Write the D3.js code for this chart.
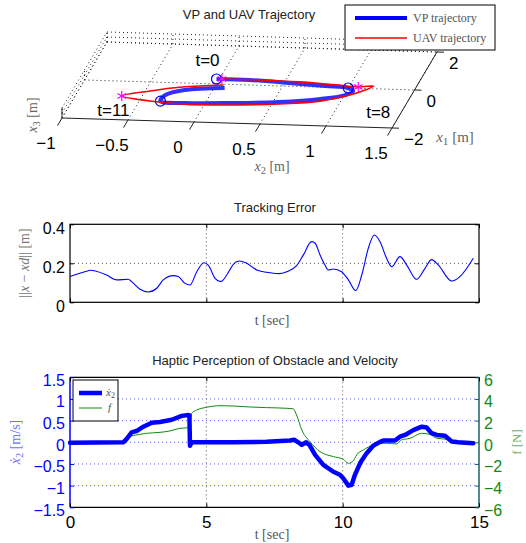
<!DOCTYPE html>
<html>
<head>
<meta charset="utf-8">
<script src="https://cdn.jsdelivr.net/npm/d3@7"></script>
<style>
  body { margin: 0; background: #fff; }
  text { font-family: "Liberation Sans", Arial, sans-serif; }
  .tex { font-family: "Liberation Serif", "DejaVu Serif", serif; }
</style>
</head>
<body>
<svg width="526" height="543"></svg>
<script>
// ---------- data ----------
// 3D view: tick values of the three axes
const x2Ticks = [-1, -0.5, 0, 0.5, 1, 1.5];
const x1Ticks = [-2, 0, 2];
const x3Ticks = [-1, 0, 1];

// VP trajectory (thick blue)
const vpT  = [0, 2.6, 3.3, 4.0, 8.0, 8.4, 8.8, 9.3, 9.8, 10.3, 10.7, 11.0, 11.8, 12.8, 15];
const vpX2 = [0.00, 0.25, 0.56, 0.84, 1.02, 1.07, 1.03, 0.86, 0.57, 0.21, -0.13, -0.32, -0.31, -0.19, 0.10];
const vpX1 = [0.00, 0.00, -0.09, -0.19, -0.26, -0.41, -0.63, -0.87, -1.09, -1.22, -1.29, -1.23, -0.91, -0.62, -0.45];
const vpX3 = [0, 0, 0, 0, 0, 0, 0, 0, 0, 0, 0, 0, 0, 0, 0];

// UAV trajectory (red)
const uavT  = [0, 2.5, 3.3, 4.1, 8.0, 8.3, 8.7, 9.1, 9.6, 10.0, 10.4, 10.7, 10.9, 11.0, 11.7, 12.5, 15];
const uavX2 = [0.04, 0.33, 0.63, 0.91, 1.09, 1.20, 1.14, 1.06, 0.87, 0.58, 0.22, -0.16, -0.40, -0.63, -0.44, -0.22, 0.08];
const uavX1 = [0.01, 0.02, -0.02, -0.12, -0.19, -0.12, -0.39, -0.62, -0.98, -1.19, -1.32, -1.35, -1.24, -1.03, -0.72, -0.47, -0.30];
const uavX3 = [0, 0, 0, 0, 0, 0, 0, 0, 0, 0, 0, 0, 0, 0, 0, 0, 0];

// times marked on both trajectories
const markTimes = [0, 8, 11];

// tracking error
const errT = [0, 0.67, 0.73, 1.34, 1.71, 2.14, 2.26, 2.57, 2.87, 3.18, 3.42, 3.79, 3.97, 4.22, 4.40, 4.65, 4.91, 5.07, 5.32, 5.53,
  5.75, 5.99, 6.21, 6.48, 6.85, 7.21, 7.64, 7.95, 8.31, 8.56, 8.86, 8.99, 9.17, 9.35, 9.47, 9.66, 9.96, 10.21, 10.48, 10.70,
  10.94, 11.16, 11.37, 11.61, 11.80, 12.10, 12.35, 12.71, 13.02, 13.26, 13.51, 14.0, 14.30, 14.79];
const errV = [0.132, 0.162, 0.164, 0.140, 0.115, 0.118, 0.106, 0.067, 0.053, 0.072, 0.115, 0.137, 0.132, 0.097, 0.089, 0.157, 0.203, 0.191, 0.123, 0.106,
  0.140, 0.195, 0.212, 0.200, 0.166, 0.154, 0.147, 0.157, 0.188, 0.243, 0.311, 0.303, 0.243, 0.191, 0.166, 0.171, 0.157, 0.115, 0.060, 0.140,
  0.277, 0.345, 0.311, 0.226, 0.183, 0.234, 0.191, 0.118, 0.174, 0.219, 0.191, 0.109, 0.132, 0.226];

// velocity x2dot [m/s]
const velT = [0, 1.96, 2.08, 2.26, 2.44, 2.69, 3.0, 3.30, 3.73, 4.10, 4.34, 4.38, 4.40, 4.46, 5.99, 7.21, 8.07, 8.22, 8.37, 8.50,
  8.66, 8.78, 8.99, 9.29, 9.66, 9.90, 10.02, 10.21, 10.33, 10.45, 10.64, 10.88, 11.12, 11.37, 11.49, 11.92, 12.10, 12.29, 12.59, 12.90,
  13.08, 13.26, 13.45, 13.75, 14.0, 14.24, 14.79];
const velV = [-0.01, 0.0, 0.08, 0.23, 0.26, 0.36, 0.45, 0.47, 0.52, 0.61, 0.63, 0.62, -0.08, 0.0, 0.0, 0.01, 0.04, 0.06, 0.0, -0.06,
  0.0, -0.06, -0.29, -0.52, -0.68, -0.75, -0.83, -1.0, -0.98, -0.75, -0.48, -0.25, -0.08, 0.01, 0.04, 0.04, 0.13, 0.17, 0.28, 0.36,
  0.34, 0.21, 0.17, 0.15, 0.02, 0.0, -0.02];

// haptic force f [N]
const forceT = [0, 1.96, 2.14, 2.32, 2.81, 3.30, 3.67, 4.03, 4.34, 4.40, 4.46, 4.65, 5.01, 5.50, 5.99, 6.60, 7.21, 7.95, 8.19, 8.31,
  8.50, 8.80, 9.17, 9.66, 10.02, 10.21, 10.39, 10.51, 10.76, 11.12, 11.61, 11.98, 12.16, 12.47, 12.90, 13.2, 13.45, 13.81, 14.18, 14.79];
const forceV = [0, 0.03, 0.52, 0.62, 0.83, 0.92, 1.05, 1.29, 1.35, 1.6, 2.68, 2.98, 3.23, 3.38, 3.35, 3.26, 3.2, 3.14, 3.08, 2.52,
  1.14, 0.06, -0.86, -1.32, -1.57, -1.94, -1.72, -1.17, -0.71, -0.25, -0.09, -0.15, 0.22, 0.37, 0.83, 0.74, 0.37, 0.28, -0.09, -0.12];

const tTicks = [0, 5, 10, 15];
const errTicks = [0, 0.2, 0.4];
const velTicks = [-1.5, -1, -0.5, 0, 0.5, 1, 1.5];
const forceTicks = [-6, -4, -2, 0, 2, 4, 6];

// ---------- drawing ----------
const svg = d3.select("svg");
const dotted = "1 3";

// ===== top: 3D trajectory =====
const x2Scale = d3.scaleLinear().domain([-1, 1.5]).range([0, 1]);
const x1Scale = d3.scaleLinear().domain([-2, 2]).range([0, 1]);
const x3Scale = d3.scaleLinear().domain([-1, 1]).range([0, 1]);
// screen vectors of the box edges (view)
const O = [62, 118], E2 = [330, 10], E1 = [45, -76], E3 = [0, -10];
function proj(x2, x1, x3) {
  const a = x2Scale(x2), b = x1Scale(x1), c = x3Scale(x3);
  return [O[0] + a * E2[0] + b * E1[0] + c * E3[0], O[1] + a * E2[1] + b * E1[1] + c * E3[1]];
}
const g3 = svg.append("g");
function seg(p, q, dash, color) {
  g3.append("line")
    .attr("x1", p[0]).attr("y1", p[1]).attr("x2", q[0]).attr("y2", q[1])
    .attr("stroke", color || "#222").attr("stroke-width", 1)
    .attr("stroke-dasharray", dash || null);
}
const [x2a, x2b] = x2Scale.domain(), [x1a, x1b] = x1Scale.domain(), [x3a, x3b] = x3Scale.domain();
// grid on floor, back wall and left wall
x2Ticks.forEach((v) => {
  seg(proj(v, x1a, x3a), proj(v, x1b, x3a), dotted);
  seg(proj(v, x1b, x3a), proj(v, x1b, x3b), dotted);
});
x1Ticks.forEach((v) => {
  if (v !== x1a) seg(proj(x2a, v, x3a), proj(x2b, v, x3a), dotted);
  seg(proj(x2a, v, x3a), proj(x2a, v, x3b), dotted);
});
x3Ticks.forEach((v) => {
  seg(proj(x2a, x1b, v), proj(x2b, x1b, v), dotted);
  seg(proj(x2a, x1a, v), proj(x2a, x1b, v), dotted);
});
// solid axes
seg(proj(x2a, x1a, x3a), proj(x2b, x1a, x3a));
seg(proj(x2b, x1a, x3a), proj(x2b, x1b, x3a));
seg(proj(x2a, x1a, x3a), proj(x2a, x1a, x3b));
// x2 ticks + labels
x2Ticks.forEach((v) => {
  const p = proj(v, x1a, x3a);
  seg(p, [p[0] - 4.5, p[1] + 7.6]);
  g3.append("text").attr("x", p[0] - 16).attr("y", p[1] + 31)
    .attr("text-anchor", "middle").attr("font-size", 17)
    .text(d3.format("")(v).replace("-", "\u2212"));
});
// x1 ticks + labels
x1Ticks.forEach((v) => {
  const p = proj(x2b, v, x3a);
  seg(p, [p[0] + 7, p[1] + 0.2]);
  g3.append("text").attr("x", p[0] + 12).attr("y", p[1] + 17)
    .attr("font-size", 17)
    .text(d3.format("")(v).replace("-", "\u2212"));
});
// axis labels
function texLabel(sel, sym, sub, unit) {
  sel.append("tspan").attr("font-style", "italic").text(sym);
  if (sub) sel.append("tspan").attr("font-size", "0.75em").attr("dy", 3).text(sub);
  sel.append("tspan").attr("dy", sub ? -3 : 0).text(" " + unit);
}
texLabel(g3.append("text").attr("class", "tex").attr("x", 272).attr("y", 171)
  .attr("text-anchor", "middle").attr("font-size", 14).attr("fill", "#666"), "x", "2", "[m]");
texLabel(g3.append("text").attr("class", "tex").attr("x", 455).attr("y", 142)
  .attr("text-anchor", "middle").attr("font-size", 15).attr("fill", "#666"), "x", "1", "[m]");
texLabel(g3.append("text").attr("class", "tex").attr("transform", "translate(37,115) rotate(-90)")
  .attr("text-anchor", "middle").attr("font-size", 14).attr("fill", "#666"), "x", "3", "[m]");

// trajectories
const vpPts = vpT.map((t, i) => proj(vpX2[i], vpX1[i], vpX3[i]));
const uavPts = uavT.map((t, i) => proj(uavX2[i], uavX1[i], uavX3[i]));
const line3 = d3.line().curve(d3.curveCatmullRom.alpha(0.5));
g3.append("path").attr("d", line3(vpPts)).attr("fill", "none")
  .attr("stroke", "#1a1aff").attr("stroke-width", 4).attr("stroke-opacity", 0.9);
g3.append("path").attr("d", line3(uavPts)).attr("fill", "none")
  .attr("stroke", "#ff0000").attr("stroke-width", 1.6);

// time markers: blue circles on VP, magenta stars on UAV
const labelOffset = { 0: [-9, -13], 8: [30, 30], 11: [-47, 15] };
markTimes.forEach((t) => {
  const p = vpPts[vpT.indexOf(t)];
  const q = uavPts[uavT.indexOf(t)];
  g3.append("circle").attr("cx", p[0]).attr("cy", p[1]).attr("r", 5)
    .attr("fill", "none").attr("stroke", "#0000ff").attr("stroke-width", 1.2);
  g3.append("path").attr("d", d3.symbol(d3.symbolAsterisk, 70)())
    .attr("transform", `translate(${q[0]},${q[1]})`)
    .attr("fill", "none").attr("stroke", "#ff00ff").attr("stroke-width", 1.2);
  g3.append("text").attr("x", p[0] + labelOffset[t][0]).attr("y", p[1] + labelOffset[t][1])
    .attr("text-anchor", "middle").attr("font-size", 17).text("t=" + t);
});

g3.append("text").attr("x", 249).attr("y", 19).attr("text-anchor", "middle")
  .attr("font-size", 13).attr("fill", "#222").text("VP and UAV Trajectory");

// legend
const leg = g3.append("g");
leg.append("rect").attr("x", 345).attr("y", 5).attr("width", 150).attr("height", 45)
  .attr("fill", "#fff").attr("stroke", "#000");
leg.append("line").attr("x1", 355).attr("x2", 407).attr("y1", 18).attr("y2", 18)
  .attr("stroke", "#0000ff").attr("stroke-width", 4);
leg.append("line").attr("x1", 355).attr("x2", 407).attr("y1", 38).attr("y2", 38)
  .attr("stroke", "#ff0000").attr("stroke-width", 1.6);
leg.append("text").attr("class", "tex").attr("x", 413).attr("y", 22)
  .attr("font-size", 12).attr("fill", "#555").text("VP trajectory");
leg.append("text").attr("class", "tex").attr("x", 413).attr("y", 42)
  .attr("font-size", 12).attr("fill", "#555").text("UAV trajectory");

// ===== middle: tracking error =====
const tx = d3.scaleLinear().domain([0, 15]).range([70, 479]);
const ey = d3.scaleLinear().domain([0, 0.4]).range([302.3, 224.3]);
const g2 = svg.append("g");

g2.selectAll(".hgrid").data([0.2]).enter().append("line")
  .attr("x1", tx(0)).attr("x2", tx(15)).attr("y1", (d) => ey(d)).attr("y2", (d) => ey(d))
  .attr("stroke", "#555").attr("stroke-dasharray", dotted);
g2.selectAll(".vgrid").data([5, 10]).enter().append("line")
  .attr("x1", (d) => tx(d)).attr("x2", (d) => tx(d)).attr("y1", ey(0)).attr("y2", ey(0.4))
  .attr("stroke", "#555").attr("stroke-dasharray", dotted);

g2.append("path").datum(errT.map((t, i) => [t, errV[i]]))
  .attr("fill", "none").attr("stroke", "#0000ff").attr("stroke-width", 1.1)
  .attr("d", d3.line().x((d) => tx(d[0])).y((d) => ey(d[1])).curve(d3.curveMonotoneX));

g2.append("rect").attr("x", tx(0)).attr("y", ey(0.4)).attr("width", tx(15) - tx(0))
  .attr("height", ey(0) - ey(0.4)).attr("fill", "none").attr("stroke", "#000").attr("stroke-width", 1.2);

const eyAxis = g2.append("g").attr("transform", `translate(${tx(0)},0)`)
  .call(d3.axisLeft(ey).tickValues(errTicks).tickSize(-4).tickSizeOuter(0).tickPadding(5)
    .tickFormat(d3.format("")));
eyAxis.select(".domain").remove();
eyAxis.selectAll("text").attr("font-size", 16).attr("fill", "#000").attr("dy", "0.55em")
  .style("font-family", "'Liberation Sans', Arial, sans-serif");
g2.append("g").attr("transform", `translate(${tx(15)},0)`)
  .call(d3.axisRight(ey).tickValues(errTicks).tickSize(-4).tickFormat(""))
  .select(".domain").remove();
g2.append("g").attr("transform", `translate(0,${ey(0)})`)
  .call(d3.axisBottom(tx).tickValues(tTicks).tickSize(-4).tickFormat(""))
  .select(".domain").remove();
g2.append("g").attr("transform", `translate(0,${ey(0.4)})`)
  .call(d3.axisTop(tx).tickValues(tTicks).tickSize(-4).tickFormat(""))
  .select(".domain").remove();

g2.append("text").attr("x", 275).attr("y", 212).attr("text-anchor", "middle")
  .attr("font-size", 13).attr("fill", "#222").text("Tracking Error");
g2.append("text").attr("class", "tex").attr("x", 272).attr("y", 325).attr("text-anchor", "middle")
  .attr("font-size", 14).attr("fill", "#555").text("t [sec]");
const eLab = g2.append("text").attr("class", "tex").attr("transform", "translate(29,263) rotate(-90)")
  .attr("text-anchor", "middle").attr("font-size", 14).attr("fill", "#777");
eLab.append("tspan").text("||");
eLab.append("tspan").attr("font-style", "italic").text("x");
eLab.append("tspan").text(" \u2212 ");
eLab.append("tspan").attr("font-style", "italic").text("xd");
eLab.append("tspan").text("|| [m]");

// ===== bottom: haptic perception =====
const vy = d3.scaleLinear().domain([-1.5, 1.5]).range([507.3, 377.3]);
const fy = d3.scaleLinear().domain([-6, 6]).range([507.3, 377.3]);
const g1 = svg.append("g");
const teal = "#1f6060";

g1.selectAll(".hgrid").data([-1, -0.5, 0, 0.5, 1]).enter().append("line")
  .attr("x1", tx(0)).attr("x2", tx(15)).attr("y1", (d) => vy(d)).attr("y2", (d) => vy(d))
  .attr("stroke", "#6060ff").attr("stroke-dasharray", dotted);
g1.selectAll(".vgrid").data([5, 10]).enter().append("line")
  .attr("x1", (d) => tx(d)).attr("x2", (d) => tx(d)).attr("y1", vy(-1.5)).attr("y2", vy(1.5))
  .attr("stroke", "#555").attr("stroke-dasharray", dotted);

g1.append("path").datum(forceT.map((t, i) => [t, forceV[i]]))
  .attr("fill", "none").attr("stroke", "#108a10").attr("stroke-width", 1)
  .attr("d", d3.line().x((d) => tx(d[0])).y((d) => fy(d[1])).curve(d3.curveMonotoneX));
g1.append("path").datum(velT.map((t, i) => [t, velV[i]]))
  .attr("fill", "none").attr("stroke", "#0000ff").attr("stroke-width", 4.5)
  .attr("stroke-linejoin", "round").attr("stroke-linecap", "round")
  .attr("d", d3.line().x((d) => tx(d[0])).y((d) => vy(d[1])));

// box edges
g1.append("line").attr("x1", tx(0)).attr("x2", tx(15)).attr("y1", vy(1.5)).attr("y2", vy(1.5))
  .attr("stroke", "#000").attr("stroke-width", 1.2);
g1.append("line").attr("x1", tx(0)).attr("x2", tx(15)).attr("y1", vy(-1.5)).attr("y2", vy(-1.5))
  .attr("stroke", "#000").attr("stroke-width", 1.2);
g1.append("line").attr("x1", tx(0)).attr("x2", tx(0)).attr("y1", vy(-1.5)).attr("y2", vy(1.5))
  .attr("stroke", "#0000ff").attr("stroke-width", 1.5);
g1.append("line").attr("x1", tx(15)).attr("x2", tx(15)).attr("y1", vy(-1.5)).attr("y2", vy(1.5))
  .attr("stroke", teal).attr("stroke-width", 1.5);

const vAxis = g1.append("g").attr("transform", `translate(${tx(0)},0)`)
  .call(d3.axisLeft(vy).tickValues(velTicks).tickSize(-4).tickSizeOuter(0).tickPadding(5)
    .tickFormat(d3.format("")));
vAxis.select(".domain").remove();
vAxis.selectAll("line").attr("stroke", "#0000ff");
vAxis.selectAll("text").attr("font-size", 16).attr("fill", "#0000ff").attr("dy", "0.5em")
  .style("font-family", "'Liberation Sans', Arial, sans-serif");

const fAxis = g1.append("g").attr("transform", `translate(${tx(15)},0)`)
  .call(d3.axisRight(fy).tickValues(forceTicks).tickSize(-4).tickSizeOuter(0).tickPadding(5)
    .tickFormat(d3.format("")));
fAxis.select(".domain").remove();
fAxis.selectAll("line").attr("stroke", teal);
fAxis.selectAll("text").attr("font-size", 16).attr("fill", "#108a10").attr("dy", "0.5em")
  .style("font-family", "'Liberation Sans', Arial, sans-serif");

const tAxis = g1.append("g").attr("transform", `translate(0,${vy(-1.5)})`)
  .call(d3.axisBottom(tx).tickValues(tTicks).tickSize(-4).tickSizeOuter(0).tickPadding(8.5));
tAxis.select(".domain").remove();
tAxis.selectAll("text").attr("font-size", 17).attr("fill", "#000")
  .style("font-family", "'Liberation Sans', Arial, sans-serif");
g1.append("g").attr("transform", `translate(0,${vy(1.5)})`)
  .call(d3.axisTop(tx).tickValues(tTicks).tickSize(-4).tickFormat(""))
  .select(".domain").remove();

g1.append("text").attr("x", 275).attr("y", 365).attr("text-anchor", "middle")
  .attr("font-size", 13).attr("fill", "#222").text("Haptic Perception of Obstacle and Velocity");
g1.append("text").attr("class", "tex").attr("x", 272).attr("y", 539).attr("text-anchor", "middle")
  .attr("font-size", 14).attr("fill", "#555").text("t [sec]");
const vLab = g1.append("text").attr("class", "tex").attr("transform", "translate(20,442) rotate(-90)")
  .attr("text-anchor", "middle").attr("font-size", 14).attr("fill", "#7070ff");
vLab.append("tspan").attr("font-style", "italic").text("\u1E8B");
vLab.append("tspan").attr("font-size", "0.75em").attr("dy", 3).text("2");
vLab.append("tspan").attr("dy", -3).text(" [m/s]");
g1.append("text").attr("class", "tex").attr("transform", "translate(521,442) rotate(-90)")
  .attr("text-anchor", "middle").attr("font-size", 13).attr("fill", "#70b070").text("f [N]");

// legend
const leg2 = g1.append("g");
leg2.append("rect").attr("x", 73).attr("y", 380).attr("width", 45).attr("height", 41)
  .attr("fill", "#fff").attr("stroke", "#000");
leg2.append("line").attr("x1", 79).attr("x2", 102).attr("y1", 393).attr("y2", 393)
  .attr("stroke", "#0000ff").attr("stroke-width", 4.5);
leg2.append("line").attr("x1", 79).attr("x2", 102).attr("y1", 408).attr("y2", 408)
  .attr("stroke", "#108a10").attr("stroke-width", 1);
const l1 = leg2.append("text").attr("class", "tex").attr("x", 106).attr("y", 396)
  .attr("font-size", 11).attr("fill", "#555");
l1.append("tspan").attr("font-style", "italic").text("\u1E8B");
l1.append("tspan").attr("font-size", "0.75em").attr("dy", 2).text("2");
leg2.append("text").attr("class", "tex").attr("x", 108).attr("y", 411)
  .attr("font-size", 11).attr("fill", "#555").attr("font-style", "italic").text("f");
</script>
</body>
</html>
